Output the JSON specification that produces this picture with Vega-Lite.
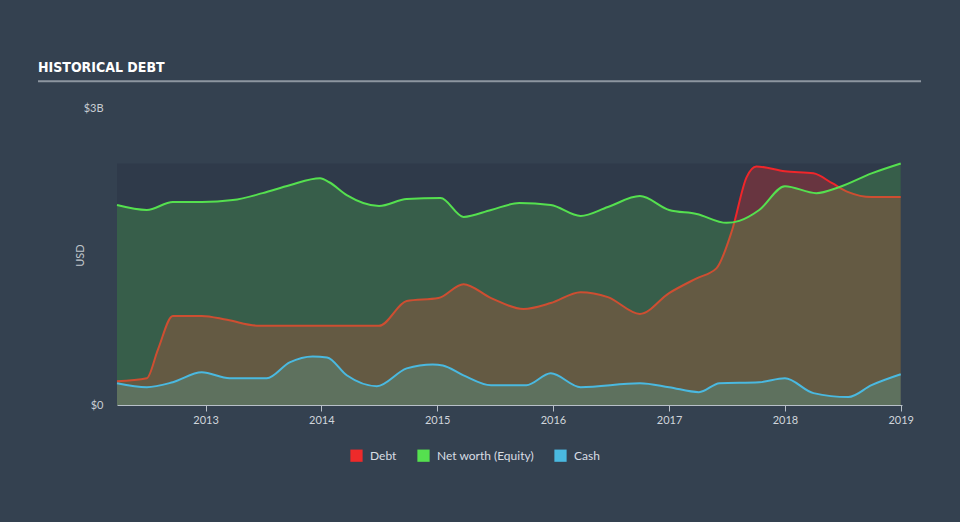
{
  "$schema": "https://vega.github.io/schema/vega-lite/v6.json",
  "width": 785,
  "height": 297,
  "autosize": {"type": "none"},
  "padding": {"left": 117, "top": 108, "right": 58, "bottom": 117},
  "background": "#344150",
  "title": {
    "text": "HISTORICAL DEBT",
    "anchor": "start",
    "frame": "group",
    "dx": -79,
    "offset": 5,
    "font": "DejaVu Sans Condensed",
    "fontWeight": "bold",
    "fontSize": 14,
    "color": "#ffffff"
  },
  "config": {
    "view": {"stroke": null},
    "axis": {"labelFont": "Lato", "titleFont": "Lato"},
    "legend": {"labelFont": "Lato"}
  },
  "data": {
    "values": [
      {"series": "Net worth (Equity)", "date": "2012-03-28", "usd_bn": 2.02},
      {"series": "Net worth (Equity)", "date": "2012-06-30", "usd_bn": 1.97},
      {"series": "Net worth (Equity)", "date": "2012-09-20", "usd_bn": 2.05},
      {"series": "Net worth (Equity)", "date": "2012-12-20", "usd_bn": 2.05},
      {"series": "Net worth (Equity)", "date": "2013-03-28", "usd_bn": 2.07},
      {"series": "Net worth (Equity)", "date": "2013-06-30", "usd_bn": 2.14},
      {"series": "Net worth (Equity)", "date": "2013-09-23", "usd_bn": 2.22},
      {"series": "Net worth (Equity)", "date": "2013-12-28", "usd_bn": 2.29},
      {"series": "Net worth (Equity)", "date": "2014-01-26", "usd_bn": 2.25},
      {"series": "Net worth (Equity)", "date": "2014-03-22", "usd_bn": 2.12},
      {"series": "Net worth (Equity)", "date": "2014-07-02", "usd_bn": 2.01},
      {"series": "Net worth (Equity)", "date": "2014-09-27", "usd_bn": 2.08},
      {"series": "Net worth (Equity)", "date": "2015-01-12", "usd_bn": 2.09},
      {"series": "Net worth (Equity)", "date": "2015-03-25", "usd_bn": 1.90},
      {"series": "Net worth (Equity)", "date": "2015-06-20", "usd_bn": 1.97},
      {"series": "Net worth (Equity)", "date": "2015-09-17", "usd_bn": 2.04},
      {"series": "Net worth (Equity)", "date": "2015-12-25", "usd_bn": 2.02},
      {"series": "Net worth (Equity)", "date": "2016-03-28", "usd_bn": 1.91},
      {"series": "Net worth (Equity)", "date": "2016-06-22", "usd_bn": 2.00},
      {"series": "Net worth (Equity)", "date": "2016-10-01", "usd_bn": 2.11},
      {"series": "Net worth (Equity)", "date": "2017-01-01", "usd_bn": 1.97},
      {"series": "Net worth (Equity)", "date": "2017-03-29", "usd_bn": 1.93},
      {"series": "Net worth (Equity)", "date": "2017-07-01", "usd_bn": 1.84},
      {"series": "Net worth (Equity)", "date": "2017-08-10", "usd_bn": 1.86},
      {"series": "Net worth (Equity)", "date": "2017-10-12", "usd_bn": 1.97},
      {"series": "Net worth (Equity)", "date": "2018-01-01", "usd_bn": 2.21},
      {"series": "Net worth (Equity)", "date": "2018-04-10", "usd_bn": 2.14},
      {"series": "Net worth (Equity)", "date": "2018-06-20", "usd_bn": 2.20},
      {"series": "Net worth (Equity)", "date": "2018-10-01", "usd_bn": 2.34},
      {"series": "Net worth (Equity)", "date": "2019-01-01", "usd_bn": 2.44},
      {"series": "Debt", "date": "2012-03-28", "usd_bn": 0.24},
      {"series": "Debt", "date": "2012-06-30", "usd_bn": 0.27},
      {"series": "Debt", "date": "2012-08-04", "usd_bn": 0.56},
      {"series": "Debt", "date": "2012-09-20", "usd_bn": 0.90},
      {"series": "Debt", "date": "2012-12-20", "usd_bn": 0.90},
      {"series": "Debt", "date": "2013-03-10", "usd_bn": 0.86},
      {"series": "Debt", "date": "2013-06-20", "usd_bn": 0.80},
      {"series": "Debt", "date": "2014-01-01", "usd_bn": 0.80},
      {"series": "Debt", "date": "2014-07-02", "usd_bn": 0.80},
      {"series": "Debt", "date": "2014-09-27", "usd_bn": 1.05},
      {"series": "Debt", "date": "2015-01-05", "usd_bn": 1.08},
      {"series": "Debt", "date": "2015-03-25", "usd_bn": 1.22},
      {"series": "Debt", "date": "2015-06-20", "usd_bn": 1.08},
      {"series": "Debt", "date": "2015-09-30", "usd_bn": 0.97},
      {"series": "Debt", "date": "2015-12-25", "usd_bn": 1.03},
      {"series": "Debt", "date": "2016-03-28", "usd_bn": 1.14},
      {"series": "Debt", "date": "2016-06-22", "usd_bn": 1.09},
      {"series": "Debt", "date": "2016-10-01", "usd_bn": 0.92},
      {"series": "Debt", "date": "2017-01-01", "usd_bn": 1.13},
      {"series": "Debt", "date": "2017-03-29", "usd_bn": 1.28},
      {"series": "Debt", "date": "2017-05-30", "usd_bn": 1.38},
      {"series": "Debt", "date": "2017-07-19", "usd_bn": 1.77},
      {"series": "Debt", "date": "2017-09-02", "usd_bn": 2.30},
      {"series": "Debt", "date": "2017-10-03", "usd_bn": 2.41},
      {"series": "Debt", "date": "2018-01-01", "usd_bn": 2.36},
      {"series": "Debt", "date": "2018-04-01", "usd_bn": 2.34},
      {"series": "Debt", "date": "2018-05-30", "usd_bn": 2.24},
      {"series": "Debt", "date": "2018-07-20", "usd_bn": 2.15},
      {"series": "Debt", "date": "2018-10-01", "usd_bn": 2.10},
      {"series": "Debt", "date": "2019-01-01", "usd_bn": 2.10},
      {"series": "Cash", "date": "2012-03-28", "usd_bn": 0.22},
      {"series": "Cash", "date": "2012-06-30", "usd_bn": 0.18},
      {"series": "Cash", "date": "2012-09-20", "usd_bn": 0.23},
      {"series": "Cash", "date": "2012-12-20", "usd_bn": 0.33},
      {"series": "Cash", "date": "2013-03-18", "usd_bn": 0.27},
      {"series": "Cash", "date": "2013-07-13", "usd_bn": 0.27},
      {"series": "Cash", "date": "2013-09-23", "usd_bn": 0.43},
      {"series": "Cash", "date": "2013-12-05", "usd_bn": 0.49},
      {"series": "Cash", "date": "2014-01-19", "usd_bn": 0.48},
      {"series": "Cash", "date": "2014-03-22", "usd_bn": 0.30},
      {"series": "Cash", "date": "2014-06-25", "usd_bn": 0.19},
      {"series": "Cash", "date": "2014-09-27", "usd_bn": 0.37},
      {"series": "Cash", "date": "2014-12-18", "usd_bn": 0.41},
      {"series": "Cash", "date": "2015-01-19", "usd_bn": 0.40},
      {"series": "Cash", "date": "2015-03-25", "usd_bn": 0.30},
      {"series": "Cash", "date": "2015-06-20", "usd_bn": 0.20},
      {"series": "Cash", "date": "2015-10-09", "usd_bn": 0.20},
      {"series": "Cash", "date": "2015-12-25", "usd_bn": 0.32},
      {"series": "Cash", "date": "2016-03-28", "usd_bn": 0.18},
      {"series": "Cash", "date": "2016-10-01", "usd_bn": 0.22},
      {"series": "Cash", "date": "2017-01-01", "usd_bn": 0.18},
      {"series": "Cash", "date": "2017-04-05", "usd_bn": 0.13},
      {"series": "Cash", "date": "2017-06-09", "usd_bn": 0.22},
      {"series": "Cash", "date": "2017-10-12", "usd_bn": 0.23},
      {"series": "Cash", "date": "2018-01-01", "usd_bn": 0.27},
      {"series": "Cash", "date": "2018-04-01", "usd_bn": 0.12},
      {"series": "Cash", "date": "2018-07-20", "usd_bn": 0.08},
      {"series": "Cash", "date": "2018-10-01", "usd_bn": 0.20},
      {"series": "Cash", "date": "2019-01-01", "usd_bn": 0.31}
    ],
    "format": {"parse": {"date": "date"}}
  },
  "resolve": {"scale": {"x": "shared", "y": "shared"}},
  "layer": [
    {
      "transform": [
        {"aggregate": [
          {"op": "min", "field": "date", "as": "d0"},
          {"op": "max", "field": "date", "as": "d1"},
          {"op": "max", "field": "usd_bn", "as": "top"}
        ]}
      ],
      "mark": {"type": "rect", "color": "#2f3a4a"},
      "encoding": {
        "x": {"field": "d0", "type": "temporal",
          "scale": {"domain": ["2012-03-28", "2019-01-05"]},
          "axis": {
            "title": null, "format": "%Y", "tickCount": "year", "grid": false,
            "labelColor": "#d0d5db", "labelFontSize": 11, "labelPadding": 3,
            "tickColor": "#b8c0c8", "domainColor": "#b8c0c8", "tickSize": 6
          }
        },
        "x2": {"field": "d1"},
        "y": {"field": "top", "type": "quantitative",
          "scale": {"domain": [0, 3], "nice": false},
          "axis": {
            "title": "USD", "values": [0, 3],
            "labelExpr": "datum.value == 0 ? '$0' : '$' + datum.value + 'B'",
            "grid": false, "domain": false, "ticks": false,
            "labelColor": "#c8cdd3", "labelFontSize": 11, "labelPadding": 14,
            "titleColor": "#c0c6cc", "titleFontSize": 11, "titleFontWeight": "normal",
            "titleX": -32, "titleY": 147
          }
        },
        "y2": {"datum": 0}
      }
    },
    {
      "transform": [{"filter": "datum.series == 'Debt'"}],
      "mark": {"type": "area", "interpolate": "monotone", "fillOpacity": 0.3},
      "encoding": {
        "x": {"field": "date", "type": "temporal"},
        "y": {"field": "usd_bn", "type": "quantitative"},
        "color": {
          "field": "series", "type": "nominal",
          "scale": {"domain": ["Debt", "Net worth (Equity)", "Cash"], "range": ["#ee2a2a", "#55e04f", "#4ab9e0"]},
          "legend": {
            "title": null, "orient": "none", "legendX": 233, "legendY": 341,
            "direction": "horizontal", "symbolType": "square", "symbolSize": 150,
            "symbolStrokeWidth": 0, "labelColor": "#d8dde3", "labelFontSize": 12,
            "columnPadding": 20, "labelOffset": 7,
            "encode": {"symbols": {"update": {"fillOpacity": {"value": 1}, "opacity": {"value": 1}}}}
          }
        }
      }
    },
    {
      "transform": [{"filter": "datum.series == 'Debt'"}],
      "mark": {"type": "line", "interpolate": "monotone", "color": "#f0262a", "strokeWidth": 2},
      "encoding": {
        "x": {"field": "date", "type": "temporal"},
        "y": {"field": "usd_bn", "type": "quantitative"}
      }
    },
    {
      "transform": [{"filter": "datum.series == 'Cash'"}],
      "mark": {"type": "area", "interpolate": "monotone", "fillOpacity": 0.22},
      "encoding": {
        "x": {"field": "date", "type": "temporal"},
        "y": {"field": "usd_bn", "type": "quantitative"},
        "color": {"field": "series", "type": "nominal"}
      }
    },
    {
      "transform": [{"filter": "datum.series == 'Net worth (Equity)'"}],
      "mark": {"type": "area", "interpolate": "monotone", "fillOpacity": 0.22},
      "encoding": {
        "x": {"field": "date", "type": "temporal"},
        "y": {"field": "usd_bn", "type": "quantitative"},
        "color": {"field": "series", "type": "nominal"}
      }
    },
    {
      "transform": [{"filter": "datum.series == 'Net worth (Equity)'"}],
      "mark": {"type": "line", "interpolate": "monotone", "color": "#55e04f", "strokeWidth": 2},
      "encoding": {
        "x": {"field": "date", "type": "temporal"},
        "y": {"field": "usd_bn", "type": "quantitative"}
      }
    },
    {
      "transform": [{"filter": "datum.series == 'Cash'"}],
      "mark": {"type": "line", "interpolate": "monotone", "color": "#4ab9e0", "strokeWidth": 2},
      "encoding": {
        "x": {"field": "date", "type": "temporal"},
        "y": {"field": "usd_bn", "type": "quantitative"}
      }
    },
    {
      "data": {"values": [{"label": "title underline"}]},
      "mark": {"type": "rule", "color": "#8d96a0", "strokeWidth": 2},
      "encoding": {
        "x": {"datum": {"year": 2011, "month": 7, "date": 23}, "type": "temporal"},
        "x2": {"datum": {"year": 2019, "month": 3, "date": 6}},
        "y": {"datum": 3.27, "type": "quantitative"}
      }
    }
  ]
}
